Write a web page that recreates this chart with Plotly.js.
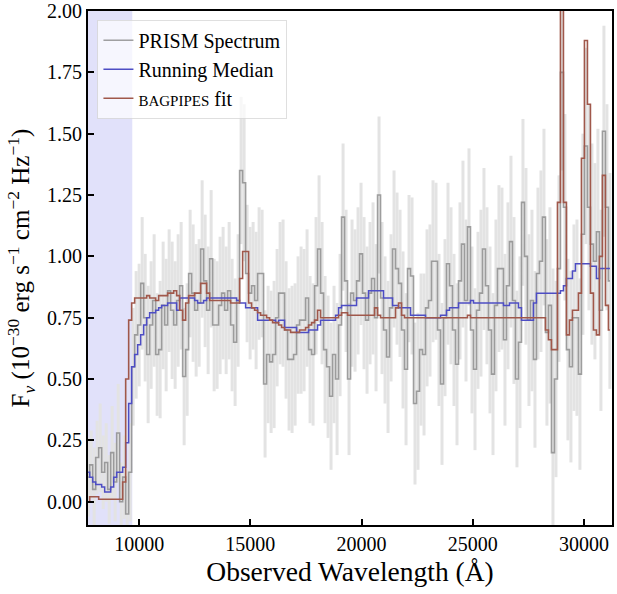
<!DOCTYPE html>
<html>
<head>
<meta charset="utf-8">
<script src="https://cdn.plot.ly/plotly-3.0.1.min.js"></script>
<style>html,body{margin:0;padding:0;background:#fff;}#chart{width:617px;height:594px;}</style>
</head>
<body>
<div id="chart"></div>
<script>
// Observed wavelength (Angstrom)
const wavelength = [
7708,7843,7978,8113,8247,8382,8517,8652,8787,8922,
9056,9191,9326,9461,9596,9730,9865,10000,10135,10270,
10404,10539,10674,10809,10944,11079,11213,11348,11483,11618,
11753,11887,12022,12157,12292,12427,12562,12696,12831,12966,
13101,13236,13371,13505,13640,13775,13910,14045,14179,14314,
14449,14584,14719,14854,14988,15123,15258,15393,15528,15662,
15797,15932,16067,16202,16337,16471,16606,16741,16876,17011,
17145,17280,17415,17550,17685,17820,17954,18089,18224,18359,
18494,18628,18763,18898,19033,19168,19303,19437,19572,19707,
19842,19977,20111,20246,20381,20516,20651,20786,20920,21055,
21190,21325,21460,21594,21729,21864,21999,22134,22269,22403,
22538,22673,22808,22943,23077,23212,23347,23482,23617,23752,
23886,24021,24156,24291,24426,24560,24695,24830,24965,25100,
25235,25369,25504,25639,25774,25909,26043,26178,26313,26448,
26583,26718,26852,26987,27122,27257,27392,27526,27661,27796,
27931,28066,28201,28335,28470,28605,28740,28875,29009,29144,
29279,29414,29549,29684,29818,29953,30088,30223,30358,30492,
30627,30762,30897,31032,31166];

// PRISM spectrum flux (1e-30 erg/s/cm2/Hz)
const prismFlux = [
0.10,0.15,0.05,0.18,0.22,0.12,0.16,0.05,0.20,0.08,
0.28,0.00,0.10,-0.05,0.12,0.55,0.68,0.72,0.89,0.75,
0.60,0.72,0.82,0.60,0.62,0.80,0.72,0.86,0.78,0.72,
0.82,0.88,0.51,0.62,0.93,0.85,0.78,0.81,1.03,0.90,
0.78,0.99,0.72,0.72,0.80,0.85,0.78,0.86,0.72,0.65,
0.82,1.35,1.30,0.93,0.85,0.88,0.82,0.93,0.93,0.48,
0.60,0.57,0.60,0.75,0.85,0.85,0.70,0.58,0.58,0.60,
0.72,0.74,0.74,0.83,0.62,0.60,0.88,1.03,0.85,0.62,
0.55,0.43,0.60,0.50,0.72,1.16,0.90,0.50,0.85,0.82,
0.90,1.01,0.85,0.74,0.85,0.91,0.75,1.25,0.83,0.70,
0.59,0.79,1.03,0.95,0.89,0.70,0.54,0.95,0.92,0.40,
0.45,0.62,0.60,0.79,0.82,0.98,0.98,0.70,0.48,0.75,
0.97,0.88,0.70,0.56,0.90,1.05,0.82,1.12,0.70,0.54,
0.78,0.85,1.03,0.88,0.70,0.52,0.80,0.95,0.95,0.66,
0.88,1.06,0.82,0.50,0.65,1.22,1.00,0.74,0.82,0.58,
0.93,0.98,1.16,0.69,0.80,0.20,0.50,0.95,1.75,1.20,
0.62,0.55,0.75,0.75,0.52,1.09,1.45,1.20,1.05,0.98,
1.10,0.78,1.51,1.20,0.90];

// PRISM flux uncertainty
const prismErr = [
0.16,0.14,0.17,0.15,0.18,0.15,0.16,0.14,0.19,0.16,
0.20,0.16,0.17,0.18,0.20,0.24,0.26,0.25,0.27,0.26,
0.28,0.26,0.27,0.25,0.28,0.26,0.27,0.25,0.28,0.26,
0.27,0.26,0.28,0.27,0.26,0.28,0.27,0.26,0.28,0.27,
0.26,0.28,0.27,0.26,0.28,0.27,0.26,0.28,0.27,0.26,
0.27,0.30,0.32,0.28,0.27,0.26,0.28,0.27,0.26,0.30,
0.28,0.29,0.30,0.28,0.29,0.30,0.28,0.29,0.30,0.29,
0.28,0.30,0.29,0.28,0.30,0.29,0.28,0.30,0.29,0.30,
0.29,0.30,0.28,0.31,0.29,0.30,0.29,0.31,0.30,0.29,
0.30,0.29,0.31,0.30,0.29,0.31,0.30,0.32,0.31,0.30,
0.31,0.30,0.32,0.31,0.30,0.32,0.31,0.30,0.32,0.33,
0.32,0.31,0.33,0.32,0.31,0.33,0.32,0.31,0.33,0.32,
0.33,0.32,0.31,0.33,0.32,0.34,0.33,0.32,0.34,0.33,
0.32,0.34,0.33,0.32,0.34,0.33,0.35,0.34,0.33,0.35,
0.34,0.35,0.34,0.36,0.35,0.34,0.36,0.35,0.37,0.36,
0.35,0.37,0.36,0.38,0.40,0.75,0.40,0.38,0.40,0.38,
0.37,0.39,0.38,0.40,0.39,0.41,0.40,0.42,0.41,0.40,
0.42,0.41,0.43,0.42,0.44];

// Running median
const runningMedian = [
0.12,0.10,0.08,0.07,0.07,0.06,0.04,0.04,0.06,0.10,
0.12,0.12,0.14,0.24,0.40,0.55,0.60,0.64,0.68,0.72,
0.75,0.77,0.77,0.78,0.79,0.80,0.80,0.81,0.81,0.81,
0.78,0.83,0.83,0.83,0.83,0.83,0.82,0.81,0.81,0.82,
0.83,0.83,0.83,0.83,0.83,0.83,0.83,0.83,0.83,0.83,
0.82,0.81,0.81,0.79,0.79,0.79,0.79,0.74,0.74,0.74,
0.74,0.74,0.74,0.73,0.74,0.74,0.71,0.71,0.71,0.71,
0.69,0.69,0.69,0.69,0.70,0.70,0.70,0.72,0.74,0.74,
0.74,0.74,0.74,0.76,0.79,0.80,0.80,0.80,0.80,0.80,
0.83,0.83,0.83,0.83,0.86,0.86,0.86,0.86,0.86,0.83,
0.83,0.83,0.80,0.80,0.79,0.79,0.79,0.79,0.76,0.76,
0.76,0.76,0.76,0.75,0.75,0.75,0.75,0.75,0.76,0.76,
0.78,0.79,0.79,0.79,0.81,0.81,0.81,0.81,0.82,0.81,
0.81,0.81,0.81,0.81,0.81,0.81,0.81,0.81,0.81,0.80,
0.80,0.81,0.81,0.81,0.79,0.74,0.74,0.74,0.74,0.81,
0.85,0.85,0.85,0.85,0.85,0.85,0.85,0.85,0.86,0.88,
0.91,0.91,0.94,0.97,0.97,0.97,0.97,0.97,0.96,0.96,
0.91,0.95,0.95,0.95,0.95];

// BAGPIPES model fit
const bagpipesFit = [
0.00,0.02,0.02,0.02,0.01,0.01,0.01,0.01,0.01,0.01,
0.01,0.01,0.08,0.50,0.74,0.81,0.83,0.83,0.83,0.83,
0.84,0.83,0.83,0.82,0.84,0.84,0.84,0.85,0.85,0.86,
0.84,0.78,0.74,0.81,0.84,0.84,0.85,0.85,0.89,0.89,
0.85,0.82,0.82,0.82,0.82,0.82,0.82,0.82,0.81,0.81,
0.81,0.91,1.02,1.02,0.81,0.79,0.78,0.77,0.76,0.76,
0.75,0.74,0.73,0.73,0.72,0.71,0.70,0.70,0.69,0.69,
0.69,0.70,0.70,0.71,0.72,0.73,0.74,0.78,0.75,0.75,
0.75,0.75,0.75,0.75,0.76,0.77,0.77,0.76,0.76,0.76,
0.76,0.76,0.76,0.76,0.76,0.76,0.79,0.76,0.75,0.75,
0.75,0.75,0.75,0.79,0.81,0.76,0.75,0.75,0.75,0.75,
0.75,0.75,0.75,0.75,0.75,0.75,0.75,0.75,0.75,0.75,
0.75,0.75,0.75,0.75,0.75,0.75,0.75,0.76,0.75,0.75,
0.75,0.75,0.75,0.75,0.75,0.75,0.75,0.75,0.75,0.75,
0.75,0.75,0.75,0.75,0.75,0.75,0.75,0.75,0.75,0.75,
0.75,0.75,0.75,0.70,0.66,0.62,0.62,1.22,2.60,1.22,
0.68,0.74,0.78,0.78,0.85,1.40,1.88,1.62,0.85,0.70,
0.68,1.00,1.33,0.80,0.70];

// Shaded (masked) wavelength band
const shadedBand = [7700, 9690];
const xRange = [7700, 31260];
const yRange = [-0.095, 2.0];
const yTicks = [0, 0.25, 0.5, 0.75, 1.0, 1.25, 1.5, 1.75, 2.0];
const xTicks = [10000, 15000, 20000, 25000, 30000];

const FONT = 'Liberation Serif, Times New Roman, serif';

const traces = [
  {
    x: wavelength, y: prismFlux, type: 'scatter', mode: 'markers',
    marker: {size: 0, color: 'rgba(0,0,0,0)'},
    error_y: {type: 'data', array: prismErr, visible: true, color: '#e3e3e3', thickness: 3, width: 0},
    showlegend: false, hoverinfo: 'skip'
  },
  {
    x: wavelength, y: prismFlux, type: 'scatter', mode: 'lines',
    name: 'PRISM Spectrum',
    line: {color: 'rgba(130,130,130,0.75)', width: 1.6, shape: 'hvh'}
  },
  {
    x: wavelength, y: runningMedian, type: 'scatter', mode: 'lines',
    name: 'Running Median',
    line: {color: '#4d4dc4', width: 1.5, shape: 'hvh'}
  },
  {
    x: wavelength, y: bagpipesFit, type: 'scatter', mode: 'lines',
    name: '<span style="font-size:15px">BAGPIPES</span> fit',
    line: {color: '#a0584b', width: 1.6, shape: 'hvh'}
  }
];

const layout = {
  width: 617, height: 594,
  margin: {l: 88, r: 5, t: 11, b: 69},
  paper_bgcolor: '#ffffff', plot_bgcolor: '#ffffff',
  font: {family: FONT, color: '#000', size: 20},
  showlegend: true,
  legend: {
    x: 0.018, y: 0.983, xanchor: 'left', yanchor: 'top',
    bgcolor: 'rgba(255,255,255,0.7)', bordercolor: 'rgba(215,215,215,0.8)', borderwidth: 1,
    font: {family: FONT, size: 20, color: '#000'},
    tracegroupgap: 0
  },
  xaxis: {
    range: xRange, tickvals: xTicks, ticktext: xTicks.map(String),
    ticks: 'inside', ticklen: 6, tickwidth: 2, tickcolor: '#000',
    showline: true, linecolor: '#000', linewidth: 2, mirror: true,
    showgrid: false, zeroline: false,
    tickfont: {family: FONT, size: 20},
    title: {text: 'Observed Wavelength (Å)', font: {family: FONT, size: 27.5}, standoff: 8}
  },
  yaxis: {
    range: yRange, tickvals: yTicks, ticktext: yTicks.map(v => v.toFixed(2)),
    ticks: 'inside', ticklen: 6, tickwidth: 2, tickcolor: '#000',
    ticklabeloverflow: 'allow',
    showline: true, linecolor: '#000', linewidth: 2, mirror: true,
    showgrid: false, zeroline: false,
    tickfont: {family: FONT, size: 20},
    title: {text: 'F<sub><i>ν</i></sub> (10<sup>−30</sup> erg s<sup>−1</sup> cm<sup>−2</sup> Hz<sup>−1</sup>)', font: {family: FONT, size: 25}, standoff: 10}
  },
  shapes: [{
    type: 'rect', xref: 'x', yref: 'paper', layer: 'below',
    x0: shadedBand[0], x1: shadedBand[1], y0: 0, y1: 1,
    fillcolor: '#e1e1fa', line: {width: 0}
  }]
};

Plotly.newPlot('chart', traces, layout, {displayModeBar: false, staticPlot: true});
</script>
</body>
</html>
